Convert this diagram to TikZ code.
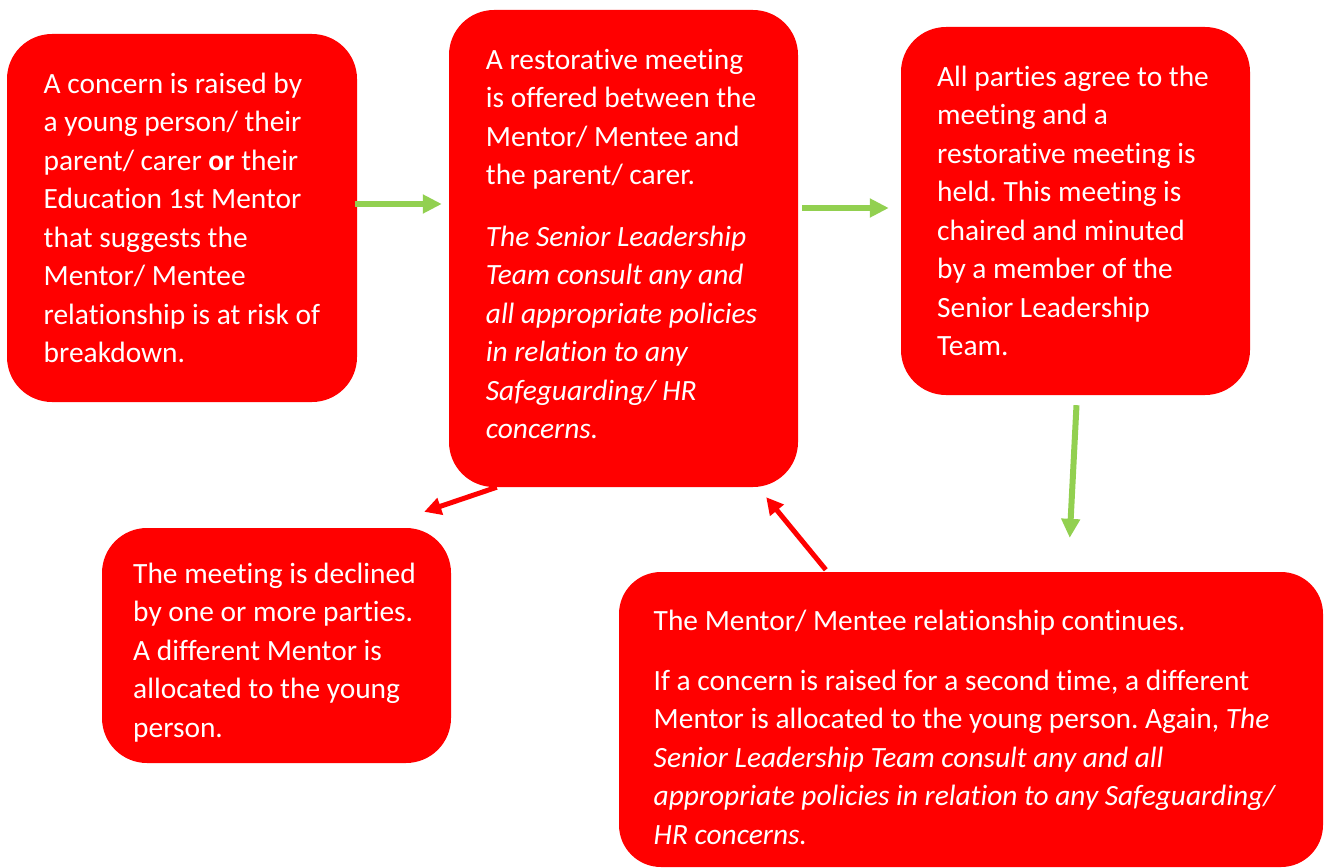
\documentclass[tikz,border=0pt]{standalone}
\usepackage{fontspec}
\setmainfont{Carlito}[Ligatures=NoCommon]
\frenchspacing
\usetikzlibrary{positioning,arrows.meta}
\definecolor{boxred}{HTML}{FF0000}
\definecolor{arrowgreen}{HTML}{92D050}

\begin{document}
\begin{tikzpicture}[
    x=1pt, y=-1pt,
    stage/.style={rectangle, rounded corners=45pt, fill=boxred, text=white, align=left,
        font=\fontsize{29.4}{38.5}\selectfont\frenchspacing, inner sep=0pt},
    flow/.style={draw=arrowgreen, line width=6pt, -{Triangle[length=19pt, width=18pt]}},
    back/.style={draw=boxred, line width=5pt, -{Triangle[length=17pt, width=17pt]}}
]
\useasboundingbox (0,0) rectangle (1324,867);

% Define boxes
\node[stage, minimum width=350pt, minimum height=368pt] (raise) at (182,218)
    {A concern is raised by\\ a young person/ their\\ parent/ carer \textbf{or} their\\ Education 1st Mentor\\
     that suggests the\\ Mentor/ Mentee\\ relationship is at risk of\\ breakdown.};
\node[stage, minimum width=349pt, minimum height=477pt] (offer) at (623.5,248.5)
    {A restorative meeting\\ is offered between the\\ Mentor/ Mentee and\\ the parent/ carer.\\[23pt]
     \textit{The Senior Leadership}\\ \textit{Team consult any and}\\ \textit{all appropriate policies}\rule{4pt}{0pt}\\
     \textit{in relation to any}\\ \textit{Safeguarding/ HR}\\ \textit{concerns.}\rule[-9pt]{0pt}{0pt}};
\node[stage, minimum width=349pt, minimum height=368pt] (held) at (1075.5,211)
    {All parties agree to the\rule{5pt}{0pt}\\ meeting and a\\ restorative meeting is\\ held. This meeting is\\
     chaired and minuted\\ by a member of the\\ Senior Leadership\\ Team.};
\node[stage, minimum width=349pt, minimum height=235pt] (declined) at (276.5,645.5)
    {\rule{0pt}{34pt}The meeting is declined\rule{4pt}{0pt}\\ by one or more parties.\\ A different Mentor is\\ allocated to the young\\ person.};
\node[stage, rounded corners=42pt, minimum width=704pt, minimum height=295pt] (continues) at (971,719.5)
    {\rule{0pt}{36pt}The Mentor/ Mentee relationship continues.\\[21.5pt]
     If a concern is raised for a second time, a different\\ Mentor is allocated to the young person. Again, \textit{The}\\
     \textit{Senior Leadership Team consult any and all}\\ \textit{appropriate policies in relation to any Safeguarding/}\rule{12pt}{0pt}\\
     \textit{HR concerns.}};

% Draw arrows
\draw[flow, shorten <=-2pt, shorten >=7pt] ([yshift=14pt]raise.east) -- ([yshift=14pt]raise.east -| offer.west);
\draw[flow, shorten <=4pt, shorten >=12pt] ([yshift=3pt]held.west -| offer.east) -- ([yshift=3pt]held.west);
\draw[flow, shorten <=10pt, shorten >=34pt] ([xshift=1.5pt]held.south) -- ([xshift=-7.5pt]held.south |- continues.north);
\draw[back] ([xshift=48pt]offer.south west) -- ([xshift=-27pt, yshift=16pt]declined.north east);
\draw[back] ([xshift=207pt, yshift=2pt]continues.north west) -- ([xshift=-32pt, yshift=-10pt]offer.south east);

\end{tikzpicture}
\end{document}
